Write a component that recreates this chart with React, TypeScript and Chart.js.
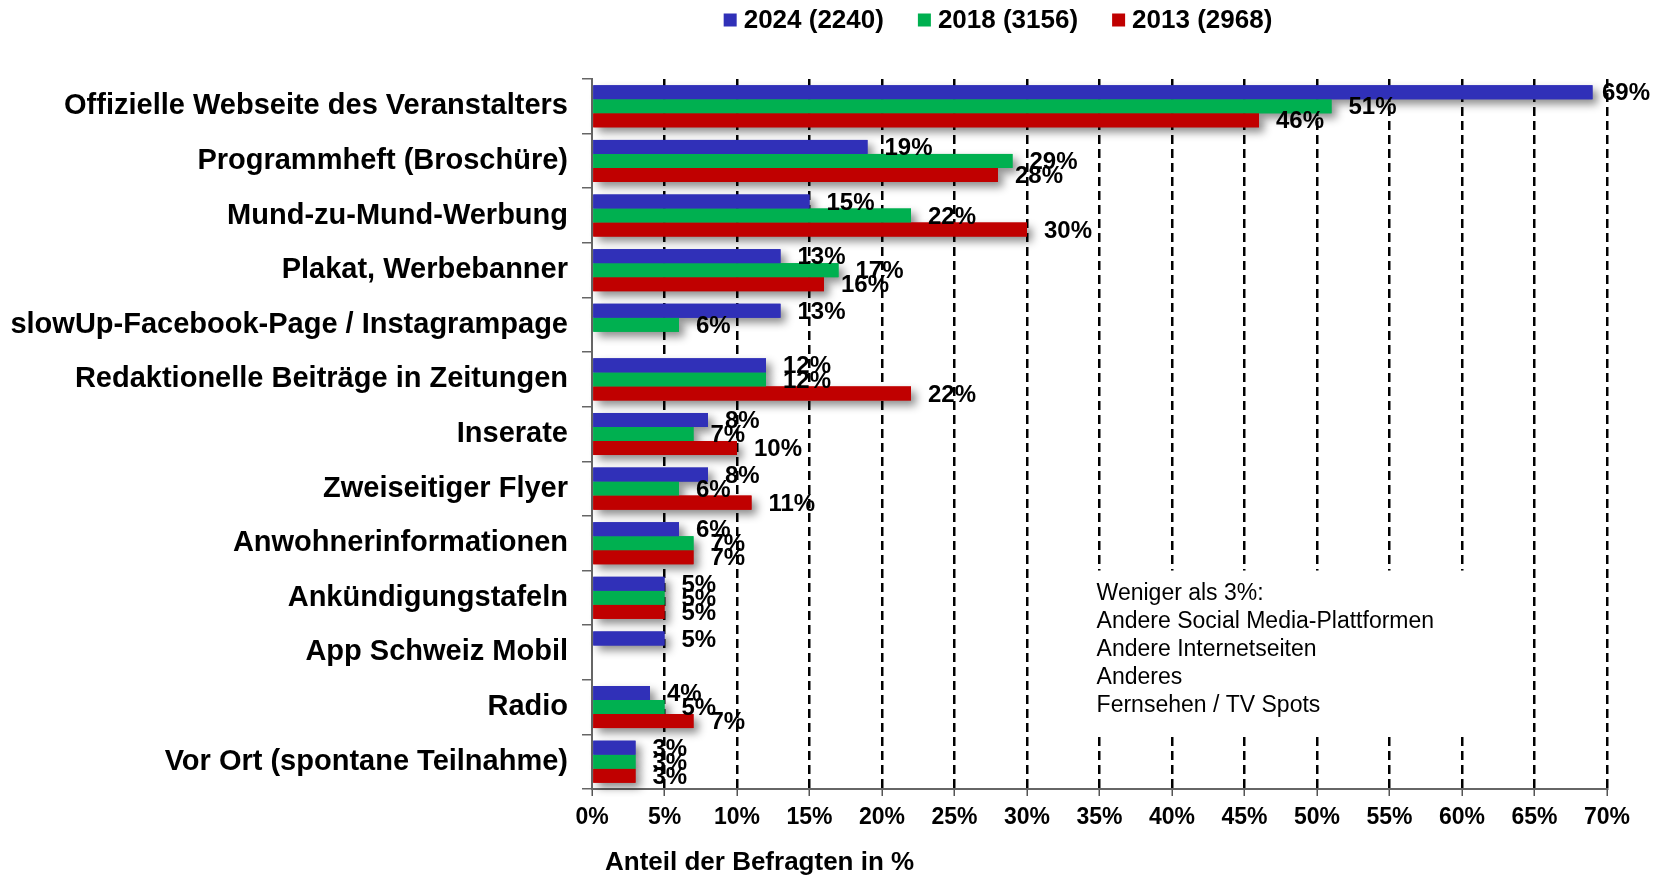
import React, { useEffect, useRef } from 'react';
import { Chart, registerables } from 'chart.js';

Chart.register(...registerables);

const categories = [
  'Offizielle Webseite des Veranstalters',
  'Programmheft (Broschüre)',
  'Mund-zu-Mund-Werbung',
  'Plakat, Werbebanner',
  'slowUp-Facebook-Page / Instagrampage',
  'Redaktionelle Beiträge in Zeitungen',
  'Inserate',
  'Zweiseitiger Flyer',
  'Anwohnerinformationen',
  'Ankündigungstafeln',
  'App Schweiz Mobil',
  'Radio',
  'Vor Ort (spontane Teilnahme)',
];

const values2024 = [69, 19, 15, 13, 13, 12, 8, 8, 6, 5, 5, 4, 3];
const values2018 = [51, 29, 22, 17, 6, 12, 7, 6, 7, 5, null, 5, 3];
const values2013 = [46, 28, 30, 16, null, 22, 10, 11, 7, 5, null, 7, 3];

const seriesLabels = ['2024 (2240)', '2018 (3156)', '2013 (2968)'];
const seriesColors = ['#3030B8', '#00B050', '#C00000'];

const xMin = 0;
const xMax = 70;
const xStep = 5;

const noteLines = [
  'Weniger als 3%:',
  'Andere Social Media-Plattformen',
  'Andere Internetseiten',
  'Anderes',
  'Fernsehen / TV Spots',
];
const axisTitle = 'Anteil der Befragten in %';

const FONT = '"Liberation Sans", Arial, Helvetica, sans-serif';

const noteBoxPlugin = {
  id: 'noteBox',
  beforeDatasetsDraw(chart: any) {
    const { ctx, scales } = chart;
    const x = scales.x;
    const y = scales.y;
    const left = x.getPixelForValue(34.8);
    const right = x.getPixelForValue(62.5);
    const top = (y.getPixelForValue(8) + y.getPixelForValue(9)) / 2;
    const bottom = (y.getPixelForValue(11) + y.getPixelForValue(12)) / 2;
    ctx.save();
    ctx.fillStyle = '#ffffff';
    ctx.fillRect(left - 12, top, right - left + 12, bottom - top);
    ctx.fillStyle = '#000000';
    ctx.font = `23px ${FONT}`;
    ctx.textAlign = 'left';
    ctx.textBaseline = 'middle';
    noteLines.forEach((line, i) => {
      ctx.fillText(line, left, top + 23 + i * 28);
    });
    ctx.restore();
  },
};

const shadowPlugin = {
  id: 'barShadow',
  beforeDatasetsDraw(chart: any) {
    const ctx = chart.ctx;
    ctx.save();
    ctx.shadowColor = 'rgba(0,0,0,0.45)';
    ctx.shadowBlur = 8;
    ctx.shadowOffsetX = 5;
    ctx.shadowOffsetY = 5;
    chart.data.datasets.forEach((ds: any, i: number) => {
      const meta = chart.getDatasetMeta(i);
      meta.data.forEach((el: any, j: number) => {
        if (ds.data[j] == null) return;
        const p = el.getProps(['x', 'y', 'base', 'height'], true);
        ctx.fillStyle = ds.backgroundColor;
        ctx.fillRect(p.base, p.y - p.height / 2, p.x - p.base, p.height);
      });
    });
    ctx.restore();
  },
};

const dataLabelPlugin = {
  id: 'dataLabels',
  afterDatasetsDraw(chart: any) {
    const ctx = chart.ctx;
    ctx.save();
    ctx.font = `bold 24px ${FONT}`;
    ctx.fillStyle = '#000000';
    ctx.textAlign = 'left';
    ctx.textBaseline = 'middle';
    chart.data.datasets.forEach((ds: any, i: number) => {
      const meta = chart.getDatasetMeta(i);
      meta.data.forEach((el: any, j: number) => {
        const v = ds.data[j];
        if (v == null) return;
        const p = el.getProps(['x', 'y'], true);
        const tx = Math.min(p.x + 17, chart.chartArea.right - 5);
        ctx.fillText(`${v}%`, tx, p.y + 1.5);
      });
    });
    ctx.restore();
  },
};

const legendPlugin = {
  id: 'customLegend',
  afterDraw(chart: any) {
    const ctx = chart.ctx;
    ctx.save();
    ctx.font = `bold 26px ${FONT}`;
    ctx.textBaseline = 'middle';
    ctx.textAlign = 'left';
    const box = 13;
    const gapBoxText = 7;
    const gapItems = 34;
    const widths = chart.data.datasets.map((ds: any) => ctx.measureText(ds.label).width);
    const total =
      widths.reduce((a: number, w: number) => a + box + gapBoxText + w, 0) +
      gapItems * (widths.length - 1);
    let xPos = 998 - total / 2;
    const yMid = 20;
    chart.data.datasets.forEach((ds: any, i: number) => {
      ctx.fillStyle = ds.backgroundColor;
      ctx.fillRect(xPos, yMid - box / 2, box, box);
      ctx.fillStyle = '#000000';
      ctx.fillText(ds.label, xPos + box + gapBoxText, yMid + 1);
      xPos += box + gapBoxText + widths[i] + gapItems;
    });
    ctx.restore();
  },
};

const axisTitlePlugin = {
  id: 'axisTitle',
  afterDraw(chart: any) {
    const ctx = chart.ctx;
    ctx.save();
    ctx.font = `bold 26px ${FONT}`;
    ctx.fillStyle = '#000000';
    ctx.textAlign = 'left';
    ctx.textBaseline = 'middle';
    ctx.fillText(axisTitle, chart.chartArea.left + 13, 863);
    ctx.restore();
  },
};

export default function App() {
  const canvasRef = useRef<HTMLCanvasElement | null>(null);

  useEffect(() => {
    document.body.style.margin = '0';
    const canvas = canvasRef.current;
    if (!canvas) return;
    const seriesData = [values2024, values2018, values2013];
    const chart = new Chart(canvas, {
      type: 'bar',
      data: {
        labels: categories,
        datasets: seriesData.map((d, i) => ({
          label: seriesLabels[i],
          data: d,
          backgroundColor: seriesColors[i],
          borderWidth: 0,
          barPercentage: 1,
          categoryPercentage: 0.77,
        })),
      },
      options: {
        indexAxis: 'y',
        responsive: false,
        animation: false,
        devicePixelRatio: 1,
        layout: { padding: { top: 79, right: 62, left: 0, bottom: 0 } },
        plugins: {
          legend: { display: false },
          tooltip: { enabled: false },
          title: { display: false },
        },
        scales: {
          x: {
            type: 'linear',
            min: xMin,
            max: xMax,
            ticks: {
              stepSize: xStep,
              callback: (v: any) => `${v}%`,
              color: '#000000',
              font: { family: FONT, size: 23, weight: 'bold' },
              padding: 8,
            },
            grid: {
              color: (c: any) => (c.tick && c.tick.value === 0 ? 'rgba(0,0,0,0)' : '#000000'),
              lineWidth: 2.5,
              drawTicks: true,
              tickLength: 7,
              tickColor: '#555555',
              tickWidth: 1.5,
              tickBorderDash: [],
            },
            border: { display: true, color: '#666666', width: 2, dash: [9, 5] },
            afterFit: (scale: any) => {
              scale.height = 89;
            },
          },
          y: {
            type: 'category',
            ticks: {
              color: '#000000',
              font: { family: FONT, size: 29, weight: 'bold' },
              padding: 14,
            },
            grid: {
              display: true,
              drawOnChartArea: false,
              drawTicks: true,
              tickLength: 10,
              color: '#666666',
              lineWidth: 1.5,
              offset: true,
            },
            border: { display: true, color: '#666666', width: 2 },
            afterFit: (scale: any) => {
              scale.width = 592;
            },
          },
        },
      },
      plugins: [noteBoxPlugin, shadowPlugin, dataLabelPlugin, legendPlugin, axisTitlePlugin],
    } as any);
    return () => chart.destroy();
  }, []);

  return (
    <div style={{ width: 1669, height: 878, position: 'relative', background: '#ffffff' }}>
      <canvas ref={canvasRef} width={1669} height={878} style={{ display: 'block' }} />
    </div>
  );
}
